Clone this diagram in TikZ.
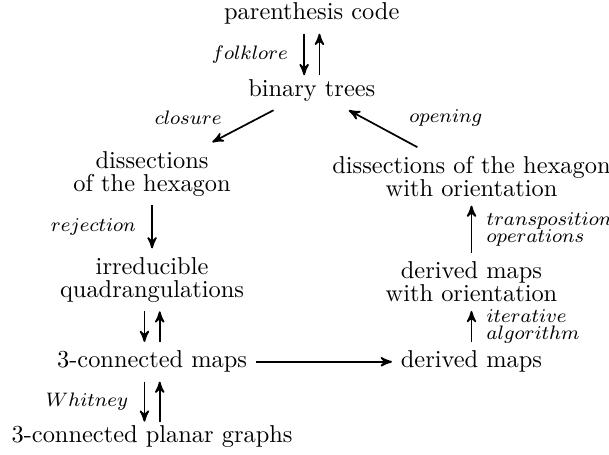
\documentclass[tikz,border=0pt]{standalone}
\usepackage{amsmath}
\usepackage{tikz}
\usetikzlibrary{arrows}

\newcommand{\tagfont}{\fontsize{8}{7}\selectfont\lineskiplimit=-10pt\relax}

\begin{document}
\begin{tikzpicture}[->, >=stealth', line width=0.7pt, node distance=1.1cm,
    every node/.style={align=center, font=\fontsize{10}{9.4}\selectfont},
    tag/.style={align=left, font=\tagfont}]
  \useasboundingbox (-4.49,0.20) rectangle (4.28,-6.35);

  \node (paren)                                                   {parenthesis code};
  \node (binary) [below of=paren]                                 {binary trees};
  \node (disL)   [node distance=1.2cm, below of=binary, xshift=-2.3cm] {dissections\\of the hexagon};
  \node (disR)   [node distance=1.24cm, below of=binary, xshift=2.3cm] {dissections of the hexagon\\with orientation};
  \node (irr)    [node distance=1.53cm, below of=disL]            {irreducible\\quadrangulations};
  \node (cmaps)  [node distance=1.18cm, below of=irr]             {3-connected maps};
  \node (planar) [node distance=1.08cm, below of=cmaps]           {3-connected planar graphs};
  \node (dmaps)  [node distance=4.6cm, right of=cmaps]            {derived maps};
  \node (dmo)    [node distance=1.15cm, above of=dmaps]           {derived maps\\with orientation};

  \path ([xshift=-0.11cm]paren.south)  edge node[tag, left=3pt] {$folklore$} ([xshift=-0.11cm, yshift=-2pt]binary.north)
        ([xshift=0.11cm, yshift=-2pt]binary.north) edge                     ([xshift=0.11cm]paren.south)
        (binary) edge node[tag, above left, xshift=-0.18cm, yshift=-0.1cm] {$closure$} (disL)
        (disR)   edge node[tag, above right, xshift=0.25cm, yshift=-0.1cm] {$opening$} (binary)
        (disL)   edge node[tag, left=3pt]  {$rejection$}                    (irr)
        ([xshift=-0.11cm]irr.south)    edge                                 ([xshift=-0.11cm]cmaps.north)
        ([xshift=0.11cm]cmaps.north)   edge                                 ([xshift=0.11cm]irr.south)
        ([xshift=-0.11cm]cmaps.south)  edge node[tag, left=3pt] {$Whitney$} ([xshift=-0.11cm, yshift=-2pt]planar.north)
        ([xshift=0.11cm, yshift=-2pt]planar.north) edge                     ([xshift=0.11cm]cmaps.south)
        (cmaps)  edge                                                       (dmaps)
        (dmaps)  edge node[tag, right=2.5pt] {$iterative$\\$algorithm$}     (dmo)
        (dmo)    edge node[tag, right=2.5pt] {$transposition$\\$operations$} (disR)
        ;
\end{tikzpicture}
\end{document}
